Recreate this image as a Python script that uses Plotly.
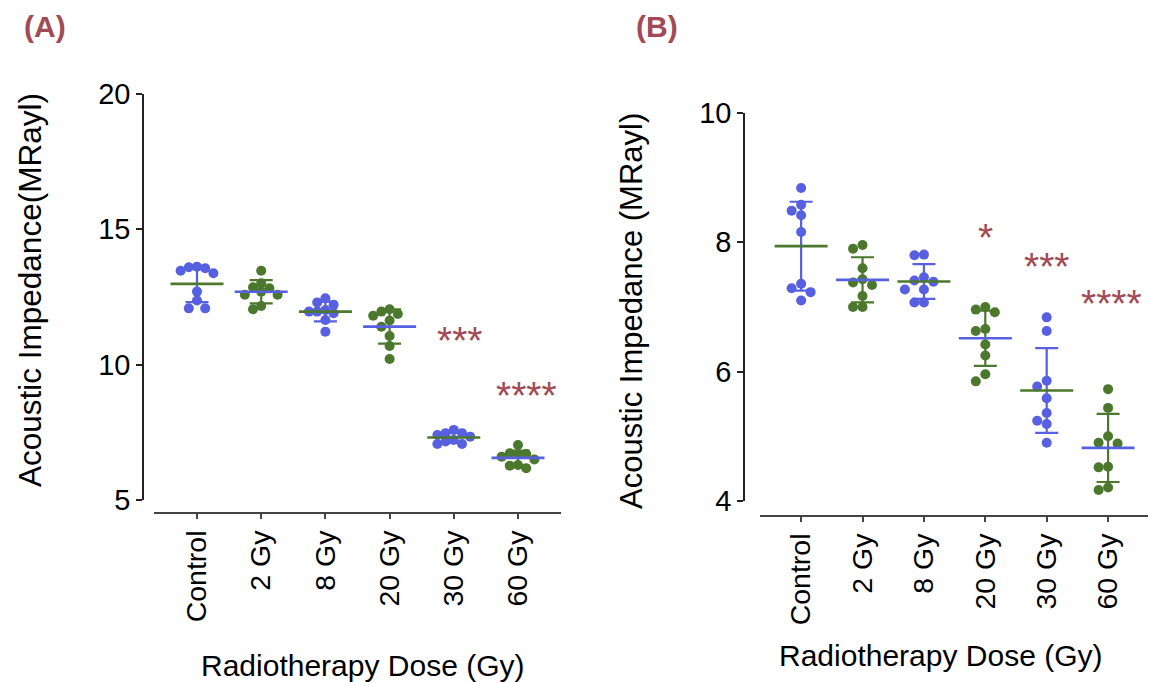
import numpy as np
import plotly.graph_objects as go

W, H = 1149, 682

categories = ["Control", "2 Gy", "8 Gy", "20 Gy", "30 Gy", "60 Gy"]

# Panel A values (MRayl)
a_control = [13.62, 13.60, 13.56, 13.47, 13.38, 12.70, 12.37, 12.08, 12.08]
a_2gy = [13.47, 13.01, 12.86, 12.82, 12.70, 12.58, 12.58, 12.17, 12.05]
a_8gy = [12.45, 12.30, 12.21, 12.02, 11.96, 11.96, 11.90, 11.65, 11.22]
a_20gy = [12.05, 11.96, 11.87, 11.81, 11.63, 11.40, 11.06, 10.69, 10.21]
a_30gy = [7.59, 7.47, 7.47, 7.40, 7.34, 7.22, 7.16, 7.07, 7.07]
a_60gy = [7.03, 6.73, 6.70, 6.70, 6.60, 6.50, 6.29, 6.27, 6.17]

# Panel B values (MRayl)
b_control = [8.84, 8.58, 8.49, 8.42, 8.16, 7.36, 7.29, 7.23, 7.10]
b_2gy = [7.96, 7.90, 7.60, 7.43, 7.38, 7.34, 7.17, 7.00, 7.00]
b_8gy = [7.81, 7.80, 7.46, 7.41, 7.39, 7.27, 7.27, 7.07, 7.07]
b_20gy = [7.00, 6.96, 6.92, 6.66, 6.63, 6.42, 6.25, 5.96, 5.85]
b_30gy = [6.84, 6.63, 5.86, 5.77, 5.59, 5.36, 5.24, 5.19, 4.90]
b_60gy = [5.73, 5.44, 5.00, 4.90, 4.89, 4.53, 4.52, 4.21, 4.17]

sig_A = ["", "", "", "", "***", "****"]
sig_B = ["", "", "", "*", "***", "****"]

yticks_A = [5, 10, 15, 20]
yticks_B = [4, 6, 8, 10]

BLUE = "#5660E0"
GREEN = "#4B782D"
RED = "#A24B57"
FONT = "Liberation Sans, Arial, sans-serif"

groups_A = [a_control, a_2gy, a_8gy, a_20gy, a_30gy, a_60gy]
groups_B = [b_control, b_2gy, b_8gy, b_20gy, b_30gy, b_60gy]
colors = [BLUE, GREEN, BLUE, GREEN, BLUE, GREEN]
mean_colors = [GREEN, BLUE, GREEN, BLUE, GREEN, BLUE]

# layout geometry (pixels)
panels = {
    "A": dict(x0=154, x1=561, xr=[-0.67, 5.67], yaxis_x=143, ytop=94, ybot=500,
              yr=[5, 20], xaxis_y=513, yticks=yticks_A, groups=groups_A, sig=sig_A,
              coll=8.2),
    "B": dict(x0=760, x1=1148, xr=[-0.67, 5.65], yaxis_x=744, ytop=113, ybot=501,
              yr=[4, 10], xaxis_y=516, yticks=yticks_B, groups=groups_B, sig=sig_B,
              coll=9.5),
}

DIAM = 10


def swarm(vals, ppu_y, ppu_x, coll):
    """Column-scatter style offsets (pixels -> data units), Prism-like."""
    order = sorted(range(len(vals)), key=lambda i: -vals[i])
    placed = []
    offs = [0.0] * len(vals)
    cands = [0.0] + [s * j * coll for j in range(1, 40) for s in (-1, 1)]
    for i in order:
        y = vals[i] * ppu_y
        for c in cands:
            if all((c - px) ** 2 + (y - py) ** 2 >= (coll - 1e-6) ** 2 for px, py in placed):
                break
        placed.append((c, y))
        offs[i] = c / ppu_x
    return offs


fig = go.Figure()

for idx, (name, p) in enumerate(panels.items()):
    sfx = "" if idx == 0 else "2"
    xa, ya = "x" + sfx, "y" + sfx
    ppu_x = (p["x1"] - p["x0"]) / (p["xr"][1] - p["xr"][0])
    ppu_y = (p["ybot"] - p["ytop"]) / (p["yr"][1] - p["yr"][0])
    for g, vals in enumerate(p["groups"]):
        v = np.array(vals)
        m = v.mean()
        sd = v.std(ddof=1)
        # error bars (mean ± SD)
        fig.add_trace(go.Scatter(
            x=[g], y=[m], xaxis=xa, yaxis=ya, mode="markers",
            marker=dict(size=1, color="rgba(0,0,0,0)"),
            error_y=dict(type="data", array=[sd], color=colors[g], thickness=2.2, width=11.5),
            showlegend=False, hoverinfo="skip"))
        offs = swarm(vals, ppu_y, ppu_x, p["coll"])
        fig.add_trace(go.Scatter(
            x=[g + o for o in offs], y=vals, xaxis=xa, yaxis=ya, mode="markers",
            marker=dict(size=DIAM, color=colors[g], line=dict(width=0)),
            showlegend=False))
        half = 26.5 / ppu_x
        fig.add_trace(go.Scatter(
            x=[g - half, g + half], y=[m, m], xaxis=xa, yaxis=ya, mode="lines",
            line=dict(color=mean_colors[g], width=2.7),
            showlegend=False, hoverinfo="skip"))

    xdom = [p["x0"] / W, p["x1"] / W]
    ydom = [1 - p["ybot"] / H, 1 - p["ytop"] / H]
    fig.update_layout(**{
        "xaxis" + sfx: dict(
            domain=xdom, range=p["xr"], anchor="free", position=1 - p["xaxis_y"] / H,
            automargin=False,
            tickmode="array", tickvals=list(range(len(categories))), ticktext=categories,
            tickangle=-90, ticks="outside", ticklen=5, tickwidth=2, tickcolor="#444",
            showline=True, linecolor="#444", linewidth=2.2, showgrid=False, zeroline=False,
            tickfont=dict(family=FONT, size=28.5, color="black")),
        "yaxis" + sfx: dict(
            domain=ydom, range=p["yr"], anchor="free", position=p["yaxis_x"] / W,
            automargin=False,
            tickmode="array", tickvals=p["yticks"], ticks="outside", ticklen=6,
            tickwidth=1.5, tickcolor="#222",
            showline=True, linecolor="#222", linewidth=1.5, showgrid=False, zeroline=False,
            tickfont=dict(family=FONT, size=29, color="black")),
    })

# significance markers
sig_pos = {"A": {4: 11.21, 5: 9.21}, "B": {3: 8.21, 4: 7.77, 5: 7.19}}
sig_dx = {"A": {4: 0.1, 5: 0.13}, "B": {3: 0.0, 4: 0.0, 5: 0.05}}
annotations = []
for idx, (name, p) in enumerate(panels.items()):
    sfx = "" if idx == 0 else "2"
    for g, s in enumerate(p["sig"]):
        if s:
            annotations.append(dict(
                x=g + sig_dx[name][g], y=sig_pos[name][g], xref="x" + sfx, yref="y" + sfx,
                text=s, showarrow=False, yshift=-9, xanchor="center", yanchor="middle",
                font=dict(family=FONT, size=39, color=RED)))


def paper_text(px, py, text, size, color="black", angle=0):
    return dict(x=px / W, y=1 - py / H, xref="paper", yref="paper", text=text,
                xanchor="center", yanchor="middle", textangle=angle, showarrow=False,
                font=dict(family=FONT, size=size, color=color))


annotations += [
    paper_text(45, 27, "<b>(A)</b>", 30, RED),
    paper_text(657, 27, "<b>(B)</b>", 30, RED),
    paper_text(30, 290, "Acoustic Impedance(MRayl)", 31.5, angle=-90),
    paper_text(631, 311, "Acoustic Impedance (MRayl)", 31, angle=-90),
    paper_text(362, 665, "Radiotherapy Dose (Gy)", 30),
    paper_text(940, 655, "Radiotherapy Dose (Gy)", 30),
]

fig.update_layout(
    width=W, height=H, autosize=False,
    margin=dict(l=0, r=0, t=0, b=0, autoexpand=False),
    paper_bgcolor="white", plot_bgcolor="white",
    annotations=annotations, showlegend=False,
)

fig.write_html("out.html")
